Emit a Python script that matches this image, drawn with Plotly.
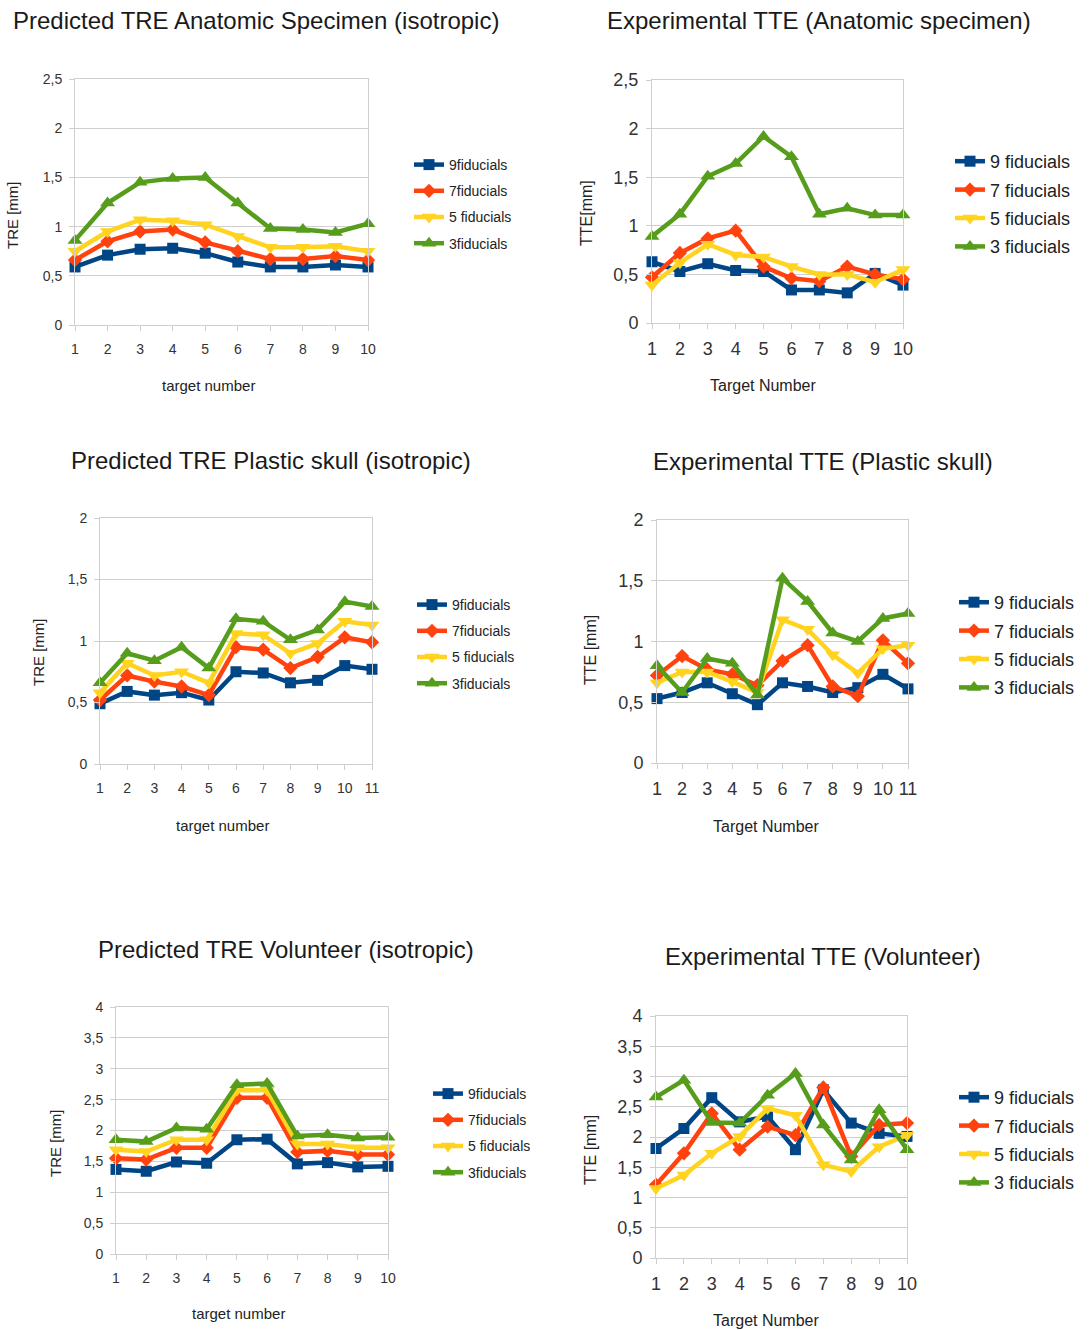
import plotly.graph_objects as go

# ---- data -------------------------------------------------------------
targets_10 = [1, 2, 3, 4, 5, 6, 7, 8, 9, 10]
targets_11 = [1, 2, 3, 4, 5, 6, 7, 8, 9, 10, 11]

names_compact = ["9fiducials", "7fiducials", "5 fiducials", "3fiducials"]
names_spaced = ["9 fiducials", "7 fiducials", "5 fiducials", "3 fiducials"]

# Predicted TRE, anatomic specimen
anat_pred_9 = [0.59, 0.71, 0.77, 0.78, 0.73, 0.64, 0.59, 0.59, 0.61, 0.59]
anat_pred_7 = [0.66, 0.85, 0.95, 0.97, 0.84, 0.75, 0.67, 0.67, 0.70, 0.66]
anat_pred_5 = [0.75, 0.95, 1.07, 1.06, 1.02, 0.90, 0.79, 0.79, 0.80, 0.75]
anat_pred_3 = [0.86, 1.24, 1.45, 1.49, 1.50, 1.24, 0.98, 0.97, 0.94, 1.03]

# Experimental TTE, anatomic specimen
anat_exp_9 = [0.63, 0.53, 0.61, 0.54, 0.53, 0.34, 0.34, 0.31, 0.51, 0.39]
anat_exp_7 = [0.47, 0.72, 0.87, 0.95, 0.58, 0.46, 0.43, 0.58, 0.50, 0.45]
anat_exp_5 = [0.39, 0.62, 0.81, 0.70, 0.68, 0.58, 0.50, 0.50, 0.42, 0.55]
anat_exp_3 = [0.89, 1.12, 1.51, 1.64, 1.92, 1.71, 1.12, 1.18, 1.11, 1.11]

# Predicted TRE, plastic skull
skull_pred_9 = [0.49, 0.59, 0.56, 0.58, 0.52, 0.75, 0.74, 0.66, 0.68, 0.80, 0.77]
skull_pred_7 = [0.52, 0.72, 0.67, 0.63, 0.56, 0.95, 0.93, 0.78, 0.87, 1.03, 0.99]
skull_pred_5 = [0.58, 0.82, 0.72, 0.75, 0.66, 1.06, 1.05, 0.90, 0.98, 1.16, 1.13]
skull_pred_3 = [0.66, 0.90, 0.84, 0.95, 0.78, 1.18, 1.16, 1.01, 1.09, 1.32, 1.28]

# Experimental TTE, plastic skull
skull_exp_9 = [0.53, 0.58, 0.66, 0.57, 0.48, 0.66, 0.63, 0.58, 0.62, 0.73, 0.61]
skull_exp_7 = [0.72, 0.88, 0.77, 0.73, 0.64, 0.84, 0.97, 0.63, 0.55, 1.01, 0.82]
skull_exp_5 = [0.66, 0.75, 0.75, 0.67, 0.58, 1.18, 1.10, 0.89, 0.74, 0.94, 0.97]
skull_exp_3 = [0.80, 0.58, 0.86, 0.82, 0.56, 1.52, 1.33, 1.07, 1.00, 1.19, 1.23]

# Predicted TRE, volunteer
vol_pred_9 = [1.37, 1.34, 1.49, 1.47, 1.85, 1.86, 1.46, 1.48, 1.41, 1.42]
vol_pred_7 = [1.55, 1.53, 1.72, 1.72, 2.53, 2.53, 1.65, 1.67, 1.61, 1.61]
vol_pred_5 = [1.69, 1.66, 1.85, 1.85, 2.65, 2.65, 1.78, 1.78, 1.72, 1.72]
vol_pred_3 = [1.85, 1.82, 2.04, 2.02, 2.74, 2.76, 1.91, 1.93, 1.88, 1.89]

# Experimental TTE, volunteer
vol_exp_9 = [1.81, 2.14, 2.65, 2.25, 2.34, 1.79, 2.78, 2.23, 2.06, 2.01]
vol_exp_7 = [1.21, 1.73, 2.39, 1.79, 2.17, 2.03, 2.82, 1.68, 2.20, 2.23]
vol_exp_5 = [1.15, 1.37, 1.73, 2.01, 2.47, 2.36, 1.54, 1.43, 1.84, 2.03]
vol_exp_3 = [2.66, 2.94, 2.24, 2.23, 2.69, 3.05, 2.20, 1.62, 2.45, 1.79]

# ---- styling ----------------------------------------------------------
W, H = 1089, 1330
FONT = "Liberation Sans, Arial, sans-serif"
COLORS = ["#004586", "#ff420e", "#ffd320", "#579d1c"]
SYMBOLS = ["square", "diamond", "triangle-down", "triangle-up"]
MSIZE = [11, 11, 13, 13]


def px_x(v):
    return v / W


def px_y(v):
    return 1 - v / H


panels = [
    dict(title="Predicted TRE Anatomic Specimen (isotropic)", tpos=(256, 20),
         ytitle="TRE [mm]", ypos=(13, 215), xtitle="target number", xpos=(208, 385),
         box=(75, 368, 79, 325), x=targets_10, ymax=2.5, dtick=0.5,
         series=[anat_pred_9, anat_pred_7, anat_pred_5, anat_pred_3],
         names=names_compact, leg=(415, 164), small=True),
    dict(title="Experimental TTE (Anatomic specimen)", tpos=(819, 20),
         ytitle="TTE[mm]", ypos=(587, 213), xtitle="Target Number", xpos=(763, 385),
         box=(652, 903, 80, 323), x=targets_10, ymax=2.5, dtick=0.5,
         series=[anat_exp_9, anat_exp_7, anat_exp_5, anat_exp_3],
         names=names_spaced, leg=(956, 158), small=False),
    dict(title="Predicted TRE Plastic skull (isotropic)", tpos=(271, 460),
         ytitle="TRE [mm]", ypos=(38, 652), xtitle="target number", xpos=(222, 825),
         box=(100, 372, 518, 764), x=targets_11, ymax=2, dtick=0.5,
         series=[skull_pred_9, skull_pred_7, skull_pred_5, skull_pred_3],
         names=names_compact, leg=(418, 604), small=True),
    dict(title="Experimental TTE (Plastic skull)", tpos=(823, 462),
         ytitle="TTE [mm]", ypos=(590, 650), xtitle="Target Number", xpos=(766, 826),
         box=(657, 908, 520, 763), x=targets_11, ymax=2, dtick=0.5,
         series=[skull_exp_9, skull_exp_7, skull_exp_5, skull_exp_3],
         names=names_spaced, leg=(960, 599), small=False),
    dict(title="Predicted TRE Volunteer (isotropic)", tpos=(286, 949),
         ytitle="TRE [mm]", ypos=(55, 1143), xtitle="target number", xpos=(238, 1313),
         box=(116, 388, 1007, 1254), x=targets_10, ymax=4, dtick=0.5,
         series=[vol_pred_9, vol_pred_7, vol_pred_5, vol_pred_3],
         names=names_compact, leg=(434, 1093), small=True),
    dict(title="Experimental TTE (Volunteer)", tpos=(823, 956),
         ytitle="TTE [mm]", ypos=(590, 1150), xtitle="Target Number", xpos=(766, 1320),
         box=(656, 907, 1016, 1258), x=targets_10, ymax=4, dtick=0.5,
         series=[vol_exp_9, vol_exp_7, vol_exp_5, vol_exp_3],
         names=names_spaced, leg=(960, 1094), small=False),
]

fig = go.Figure()
layout = dict(
    width=W, height=H,
    margin=dict(l=0, r=0, t=0, b=0, pad=0, autoexpand=False),
    paper_bgcolor="white", plot_bgcolor="white",
    separators=", ", font=dict(family=FONT, color="#222222"),
    annotations=[],
)

for i, p in enumerate(panels, start=1):
    sfx = "" if i == 1 else str(i)
    xa, ya = "x" + sfx, "y" + sfx
    leg_name = "legend" + sfx
    tick_size = 14 if p["small"] else 18
    leg_size = 14 if p["small"] else 18
    l, r, t, b = p["box"]

    for k, (vals, name) in enumerate(zip(p["series"], p["names"])):
        fig.add_trace(go.Scatter(
            x=p["x"], y=vals, name=name, mode="lines+markers",
            xaxis=xa, yaxis=ya, legend=leg_name, legendgroup=f"{i}-{k}",
            line=dict(color=COLORS[k], width=4.5),
            marker=dict(symbol=SYMBOLS[k], size=MSIZE[k], color=COLORS[k]),
            cliponaxis=False,
        ))

    axis_common = dict(
        showgrid=True, gridcolor="#cfcfcf", gridwidth=1,
        showline=True, linecolor="#cfcfcf", linewidth=1, mirror=True,
        ticks="outside", ticklen=5, tickcolor="#cfcfcf", automargin=False,
        zeroline=False, tickfont=dict(size=tick_size, color="#333333", family=FONT),
        fixedrange=True,
    )
    layout["xaxis" + sfx] = dict(
        axis_common, domain=[px_x(l), px_x(r)], anchor=ya,
        range=[p["x"][0], p["x"][-1]], tickmode="array", tickvals=p["x"],
        ticklabelstandoff=6 if p["small"] else 4, showgrid=False,
    )
    layout["yaxis" + sfx] = dict(
        axis_common, domain=[px_y(b), px_y(t)], anchor=xa,
        range=[0, p["ymax"]], dtick=p["dtick"], tick0=0,
        ticklabelstandoff=4,
    )
    layout[leg_name] = dict(
        x=px_x(p["leg"][0] - 6), y=px_y(p["leg"][1] - 15),
        xanchor="left", yanchor="top", bgcolor="rgba(0,0,0,0)",
        font=dict(size=leg_size, color="#222222", family=FONT),
        tracegroupgap=5 if p["small"] else 2, itemsizing="trace",
    )

    title_size = 24
    layout["annotations"] += [
        dict(text=p["title"], x=px_x(p["tpos"][0]), y=px_y(p["tpos"][1]),
             xref="paper", yref="paper", showarrow=False,
             xanchor="center", yanchor="middle",
             font=dict(size=title_size, color="#1a1a1a", family=FONT)),
        dict(text=p["ytitle"], x=px_x(p["ypos"][0]), y=px_y(p["ypos"][1]),
             xref="paper", yref="paper", showarrow=False, textangle=-90,
             xanchor="center", yanchor="middle",
             font=dict(size=15 if p["small"] else 16, color="#222222", family=FONT)),
        dict(text=p["xtitle"], x=px_x(p["xpos"][0]), y=px_y(p["xpos"][1]),
             xref="paper", yref="paper", showarrow=False,
             xanchor="center", yanchor="middle",
             font=dict(size=15 if p["small"] else 16, color="#222222", family=FONT)),
    ]

fig.update_layout(**layout)
# page without the default body margin so the figure fills the window exactly
fig.write_html("out.html", post_script="document.body.style.margin='0px';")
